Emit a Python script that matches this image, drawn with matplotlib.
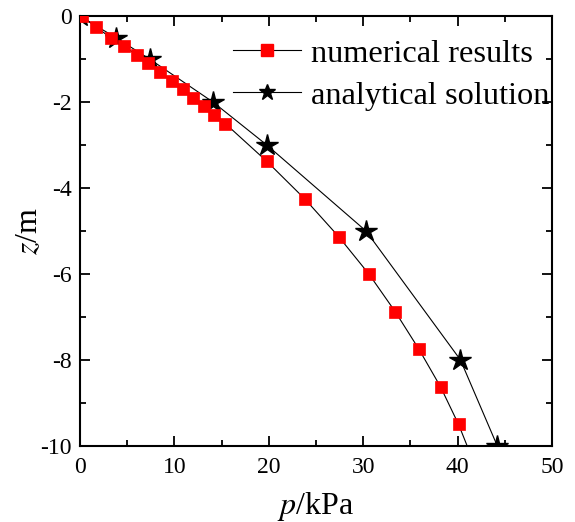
import matplotlib
matplotlib.use('Agg')
import matplotlib.pyplot as plt
from matplotlib.lines import Line2D
from matplotlib.ticker import MultipleLocator

plt.rcParams['font.family'] = 'Liberation Serif'
plt.rcParams['mathtext.fontset'] = 'stix'
plt.rcParams['axes.unicode_minus'] = False

# numerical results
p_num = [0.2, 1.7, 3.25, 4.66, 6.0, 7.23, 8.47, 9.71, 10.88, 12.0, 13.1, 14.2, 15.4,
         19.8, 23.8, 27.4, 30.6, 33.4, 35.9, 38.2, 40.1, 41.7]
z_num = [0.0, -0.25, -0.5, -0.7, -0.9, -1.1, -1.3, -1.5, -1.7, -1.9, -2.1, -2.3, -2.5,
         -3.38, -4.25, -5.13, -6.0, -6.88, -7.75, -8.63, -9.5, -10.38]

# analytical solution
p_ana = [0.0, 3.8, 7.4, 14.1, 19.8, 30.3, 40.3, 44.2]
z_ana = [0.0, -0.5, -1.0, -2.0, -3.0, -5.0, -8.0, -10.0]

fig = plt.figure(figsize=(5.75, 5.22), dpi=100)
ax = fig.add_axes([0.139, 0.146, 0.821, 0.823])

ax.plot(p_ana, z_ana, color='black', lw=0.8, marker='*', ms=16,
        mfc='black', mec='black', zorder=2)
ax.plot(p_num, z_num, color='black', lw=0.8, marker='s', ms=8.5,
        mfc='red', mec='red', mew=0.5, zorder=3)

ax.set_xlim(0, 50)
ax.set_ylim(-10, 0)
ax.xaxis.set_major_locator(MultipleLocator(10))
ax.xaxis.set_minor_locator(MultipleLocator(5))
ax.yaxis.set_major_locator(MultipleLocator(2))
ax.yaxis.set_minor_locator(MultipleLocator(1))
ax.tick_params(which='both', direction='in', top=True, right=True, width=1.3,
               labelsize=17)
ax.tick_params(axis='x', pad=8)
ax.tick_params(axis='y', pad=6)
ax.tick_params(which='major', length=7)
ax.tick_params(which='minor', length=4)
for s in ax.spines.values():
    s.set_linewidth(1.5)

ax.set_xlabel(r'$\mathit{p}$/kPa', fontsize=23, labelpad=9)
ax.set_ylabel(r'$\mathit{z}$/m', fontsize=23, labelpad=-3)

handles = [
    Line2D([], [], color='black', lw=0.8, marker='s', ms=8.5, mfc='red', mec='red'),
    Line2D([], [], color='black', lw=0.8, marker='*', ms=12, mfc='black', mec='black'),
]
fig.legend(handles, ['numerical results', 'analytical solution'],
           loc='upper left', bbox_to_anchor=(0.405, 0.925), frameon=False,
           fontsize=23.3, handlelength=2.1, handletextpad=0.3, labelspacing=0.38,
           borderpad=0, borderaxespad=0)

fig.savefig('out.png', dpi=100)
